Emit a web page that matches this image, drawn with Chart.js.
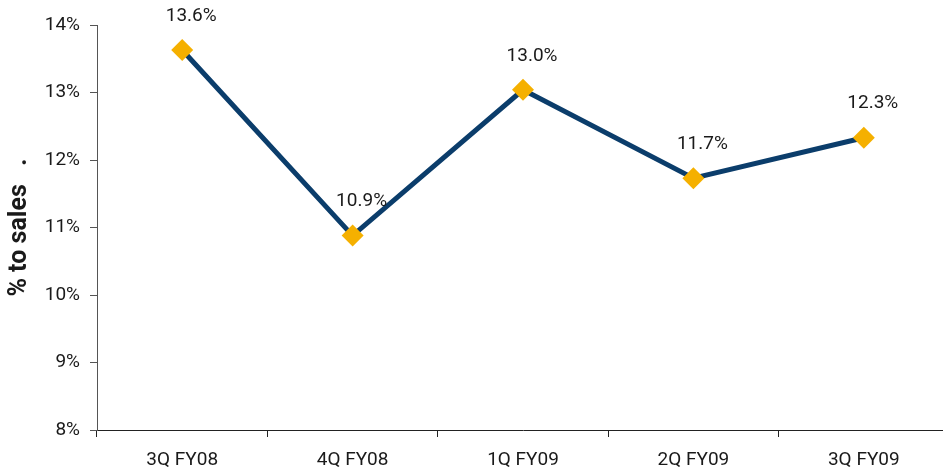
<!DOCTYPE html>
<html>
<head>
<meta charset="utf-8">
<script src="https://cdn.jsdelivr.net/npm/chart.js@4/dist/chart.umd.min.js"></script>
<style>
  html, body { margin: 0; padding: 0; background: #fff; overflow: hidden; }
  #wrap { width: 960px; height: 474px; }
</style>
</head>
<body>
<div id="wrap"><canvas id="myChart"></canvas></div>
<script>
const quarters = ['3Q FY08', '4Q FY08', '1Q FY09', '2Q FY09', '3Q FY09'];
const pctToSales = [13.63, 10.88, 13.04, 11.73, 12.33];
const pointLabels = ['13.6%', '10.9%', '13.0%', '11.7%', '12.3%'];
const yTicks = [8, 9, 10, 11, 12, 13, 14];

const FONT = "Roboto, sans-serif";
const ctx = document.getElementById('myChart').getContext('2d');

const labelPlugin = {
  id: 'point_labels',
  afterDatasetsDraw: (chart) => {
    const c = chart.ctx;
    const meta = chart.getDatasetMeta(0);
    c.save();
    c.font = '19px ' + FONT;
    c.fillStyle = '#1a1a1a';
    c.textAlign = 'center';
    c.textBaseline = 'middle';
    meta.data.forEach((pt, i) => {
      c.fillText(pointLabels[i], pt.x + 9, pt.y - 34);
    });
    c.restore();
  }
};

const config = {
  type: 'line',
  data: {
    labels: quarters,
    datasets: [{
      data: pctToSales,
      borderColor: '#0b3d6b',
      borderWidth: 5,
      tension: 0,
      pointStyle: 'rectRot',
      pointRadius: 11,
      pointHoverRadius: 11,
      pointBackgroundColor: '#f5b000',
      pointBorderColor: '#f5b000',
      pointBorderWidth: 0
    }]
  },
  options: {
    responsive: true,
    maintainAspectRatio: false,
    animation: false,
    layout: { padding: { left: 0, right: 7, top: 25, bottom: 0 } },
    plugins: { legend: { display: false }, tooltip: { enabled: false } },
    scales: {
      x: {
        offset: true,
        grid: { display: true, drawOnChartArea: false, offset: true, tickLength: 7, color: '#222', lineWidth: 1 },
        border: { display: true, color: '#222', width: 1 },
        ticks: { color: '#1a1a1a', padding: 12, maxRotation: 0, font: { family: FONT, size: 19 } },
        afterFit: (scale) => { scale.height = 44; }
      },
      y: {
        min: yTicks[0],
        max: yTicks[yTicks.length - 1],
        afterBuildTicks: (scale) => { scale.ticks = yTicks.map(v => ({ value: v })); },
        grid: { display: true, drawOnChartArea: false, tickLength: 7, color: '#555', lineWidth: 1 },
        border: { display: true, color: '#555', width: 1 },
        ticks: {
          color: '#1a1a1a', padding: 10, font: { family: FONT, size: 19 },
          callback: (v) => v + '%'
        },
        title: {
          display: true,
          text: '% to sales   .',
          color: '#1a1a1a',
          padding: { top: 5, bottom: 0 },
          font: { family: FONT, size: 25, weight: 'bold' }
        },
        afterFit: (scale) => { scale.width = 97; }
      }
    }
  },
  plugins: [labelPlugin]
};

const myChart = new Chart(ctx, config);
</script>
</body>
</html>
